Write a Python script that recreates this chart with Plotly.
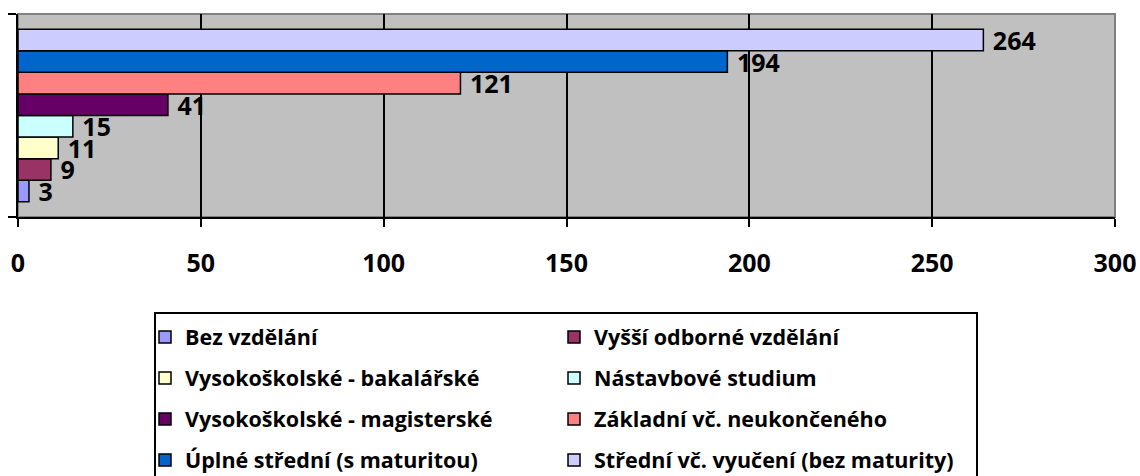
import plotly.graph_objects as go

# ---- data ----
categories = ["Vzdělání"]
series_names = [
    "Bez vzdělání",
    "Vyšší odborné vzdělání",
    "Vysokoškolské - bakalářské",
    "Nástavbové studium",
    "Vysokoškolské - magisterské",
    "Základní vč. neukončeného",
    "Úplné střední (s maturitou)",
    "Střední vč. vyučení (bez maturity)",
]
series_values = [3, 9, 11, 15, 41, 121, 194, 264]
series_colors = ["#9999FF", "#993366", "#FFFFCC", "#CCFFFF",
                 "#660066", "#FF8080", "#0066CC", "#CCCCFF"]
x_ticks = [0, 50, 100, 150, 200, 250, 300]

W, H = 1140, 476
ML, MR, MT, MB = 18, 25, 14, 259
PW, PH = W - ML - MR, H - MT - MB
FONT = "Open Sans"


def px_x(px):
    return (px - ML) / PW


def px_y(py):
    return (H - MB - py) / PH


legend_names = ["legend", "legend2", "legend3", "legend4"]
fig = go.Figure()
for i, (name, val, col) in enumerate(zip(series_names, series_values, series_colors)):
    fig.add_trace(go.Bar(
        y=categories, x=[val], name=name, orientation="h",
        marker=dict(color=col, line=dict(color="black", width=1.5)),
        text=[val], texttemplate=" %{x}", textposition="outside",
        textfont=dict(family=FONT, size=25, color="black", weight="bold"),
        constraintext="none", cliponaxis=False,
        legend=legend_names[i // 2],
    ))

row_y = [337, 378, 419, 460]
legend_cfg = {}
for k, ln in enumerate(legend_names):
    legend_cfg[ln] = dict(
        orientation="h", x=px_x(145), xanchor="left",
        y=px_y(row_y[k]), yanchor="middle",
        entrywidth=364, entrywidthmode="pixels",
        font=dict(family=FONT, size=21.5, color="black", weight="bold"),
        bgcolor="rgba(0,0,0,0)", borderwidth=0,
        traceorder="normal",
    )

fig.update_layout(
    width=W, height=H,
    margin=dict(l=ML, r=MR, t=MT, b=MB, autoexpand=False),
    paper_bgcolor="white", plot_bgcolor="#C0C0C0",
    barmode="group", bargap=0.15, bargroupgap=0,
    showlegend=True,
    font=dict(family=FONT, color="black"),
    xaxis=dict(
        range=[0, 300], tickvals=x_ticks, showgrid=True, gridcolor="black", gridwidth=2,
        zeroline=False, showline=True, linecolor="black", linewidth=2,
        ticks="outside", ticklen=8, tickwidth=2, tickcolor="black",
        tickfont=dict(family=FONT, size=25, color="black", weight="bold"),
        ticklabelstandoff=15, automargin=False,
    ),
    yaxis=dict(
        type="category", range=[-0.5, 0.5], showticklabels=False,
        tickson="boundaries", ticks="outside", ticklen=8, tickwidth=2, tickcolor="black",
        showline=True, linecolor="black", linewidth=2, showgrid=False, zeroline=False,
        automargin=False,
    ),
    shapes=[
        dict(type="rect", xref="paper", yref="paper", x0=0, x1=1, y0=0, y1=1,
             line=dict(color="#808080", width=2), layer="below"),
        dict(type="rect", xref="paper", yref="paper",
             x0=px_x(155), x1=px_x(977), y0=px_y(313), y1=px_y(485),
             line=dict(color="black", width=2), fillcolor="rgba(0,0,0,0)"),
    ],
    **legend_cfg,
)

fig.write_html("out.html",
               config={"displayModeBar": False},
               post_script="document.body.style.margin='0';document.body.style.overflow='hidden';")
